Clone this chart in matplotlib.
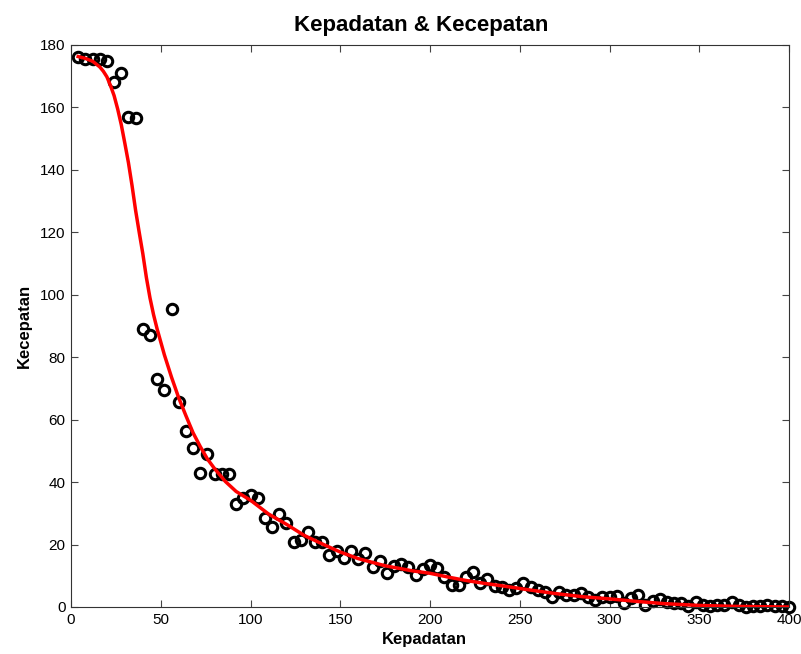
import matplotlib
matplotlib.use("Agg")
import matplotlib.pyplot as plt
import numpy as np

plt.rcParams['font.family'] = ['Liberation Sans', 'DejaVu Sans']

# observed data (kepadatan, kecepatan)
kepadatan = np.arange(4, 401, 4)
kecepatan = [
    176, 175.5, 175.5, 175.5, 175, 168, 171, 157, 156.5, 89,
    87, 73, 69.5, 95.5, 65.5, 56.5, 51, 43, 49, 42.5,
    42.5, 42.5, 33, 35, 36, 35, 28.5, 25.7, 29.7, 26.8,
    20.7, 21.5, 23.9, 20.7, 20.7, 16.7, 18, 15.6, 18, 15.3,
    17.2, 12.9, 14.8, 10.8, 13.1, 13.7, 12.7, 10.2, 12.1, 13.4,
    12.4, 9.5, 7, 7, 9.5, 11.3, 7.8, 8.9, 6.7, 6.5,
    5.4, 6, 7.6, 6.5, 5.4, 4.9, 3.1, 4.9, 3.8, 3.8,
    4.6, 3.1, 2.2, 3.3, 3.3, 3.5, 1.2, 2.8, 3.8, 0.6,
    1.9, 2.5, 1.7, 1.2, 1.2, 0.4, 1.7, 0.8, 0.4, 0.8,
    0.8, 1.5, 0.8, 0.0, 0.4, 0.2, 0.8, 0.2, 0.4, 0.0,
]

# fitted curve
fit_x = [4, 8, 12, 16, 18, 20, 22, 24, 26, 28, 30, 32, 34, 36, 38, 40, 42,
         44, 46, 48, 52, 56, 60, 64, 68, 72, 76, 80, 86, 92, 100, 110, 120,
         130, 140, 150, 160, 175, 190, 200, 210, 220, 230, 240, 255, 270,
         285, 300, 315, 330, 350, 370, 400]
fit_y = [176.3, 175.7, 174.8, 173, 171.6, 169.8, 167, 163.8, 159.5, 154.5,
         148.5, 142.3, 135, 127, 120, 113.2, 105.5, 99, 93.6, 89, 80.8,
         73.6, 67, 61.3, 55.8, 51.4, 47.4, 44.3, 40.2, 37, 34.2, 29.8, 26.5,
         22.9, 20.2, 17.6, 15.5, 13.2, 11.6, 10.8, 9.6, 8.5, 7.6, 6.8, 5.5,
         4.3, 3.3, 2.6, 1.8, 1.1, 0.5, 0.2, 0.0]

fig = plt.figure(figsize=(8.01, 6.54), dpi=100)
ax = fig.add_axes([71 / 801, 1 - 607 / 654, 718 / 801, 562 / 654])

ax.plot(kepadatan, kecepatan, 'o', mfc='none', mec='black', mew=2.2, ms=7.5,
        zorder=2, clip_on=False)
ax.plot(fit_x, fit_y, color='red', lw=2.5, zorder=3)

ax.set_xlim(0, 400)
ax.set_ylim(0, 180)
ax.set_xticks(np.arange(0, 401, 50))
ax.set_yticks(np.arange(0, 181, 20))
ax.tick_params(direction='in', top=True, right=True, length=5,
               labelsize=11, color='#444444', pad=4)
for s in ax.spines.values():
    s.set_color('#333333')

ax.set_title('Kepadatan & Kecepatan', fontsize=16, fontweight='bold', pad=10,
             x=0.488)
ax.set_xlabel('Kepadatan', fontsize=12, fontweight='bold', labelpad=4, x=0.492)
ax.set_ylabel('Kecepatan', fontsize=12, fontweight='bold', labelpad=6)

fig.savefig('out.png', dpi=100, facecolor='white')
